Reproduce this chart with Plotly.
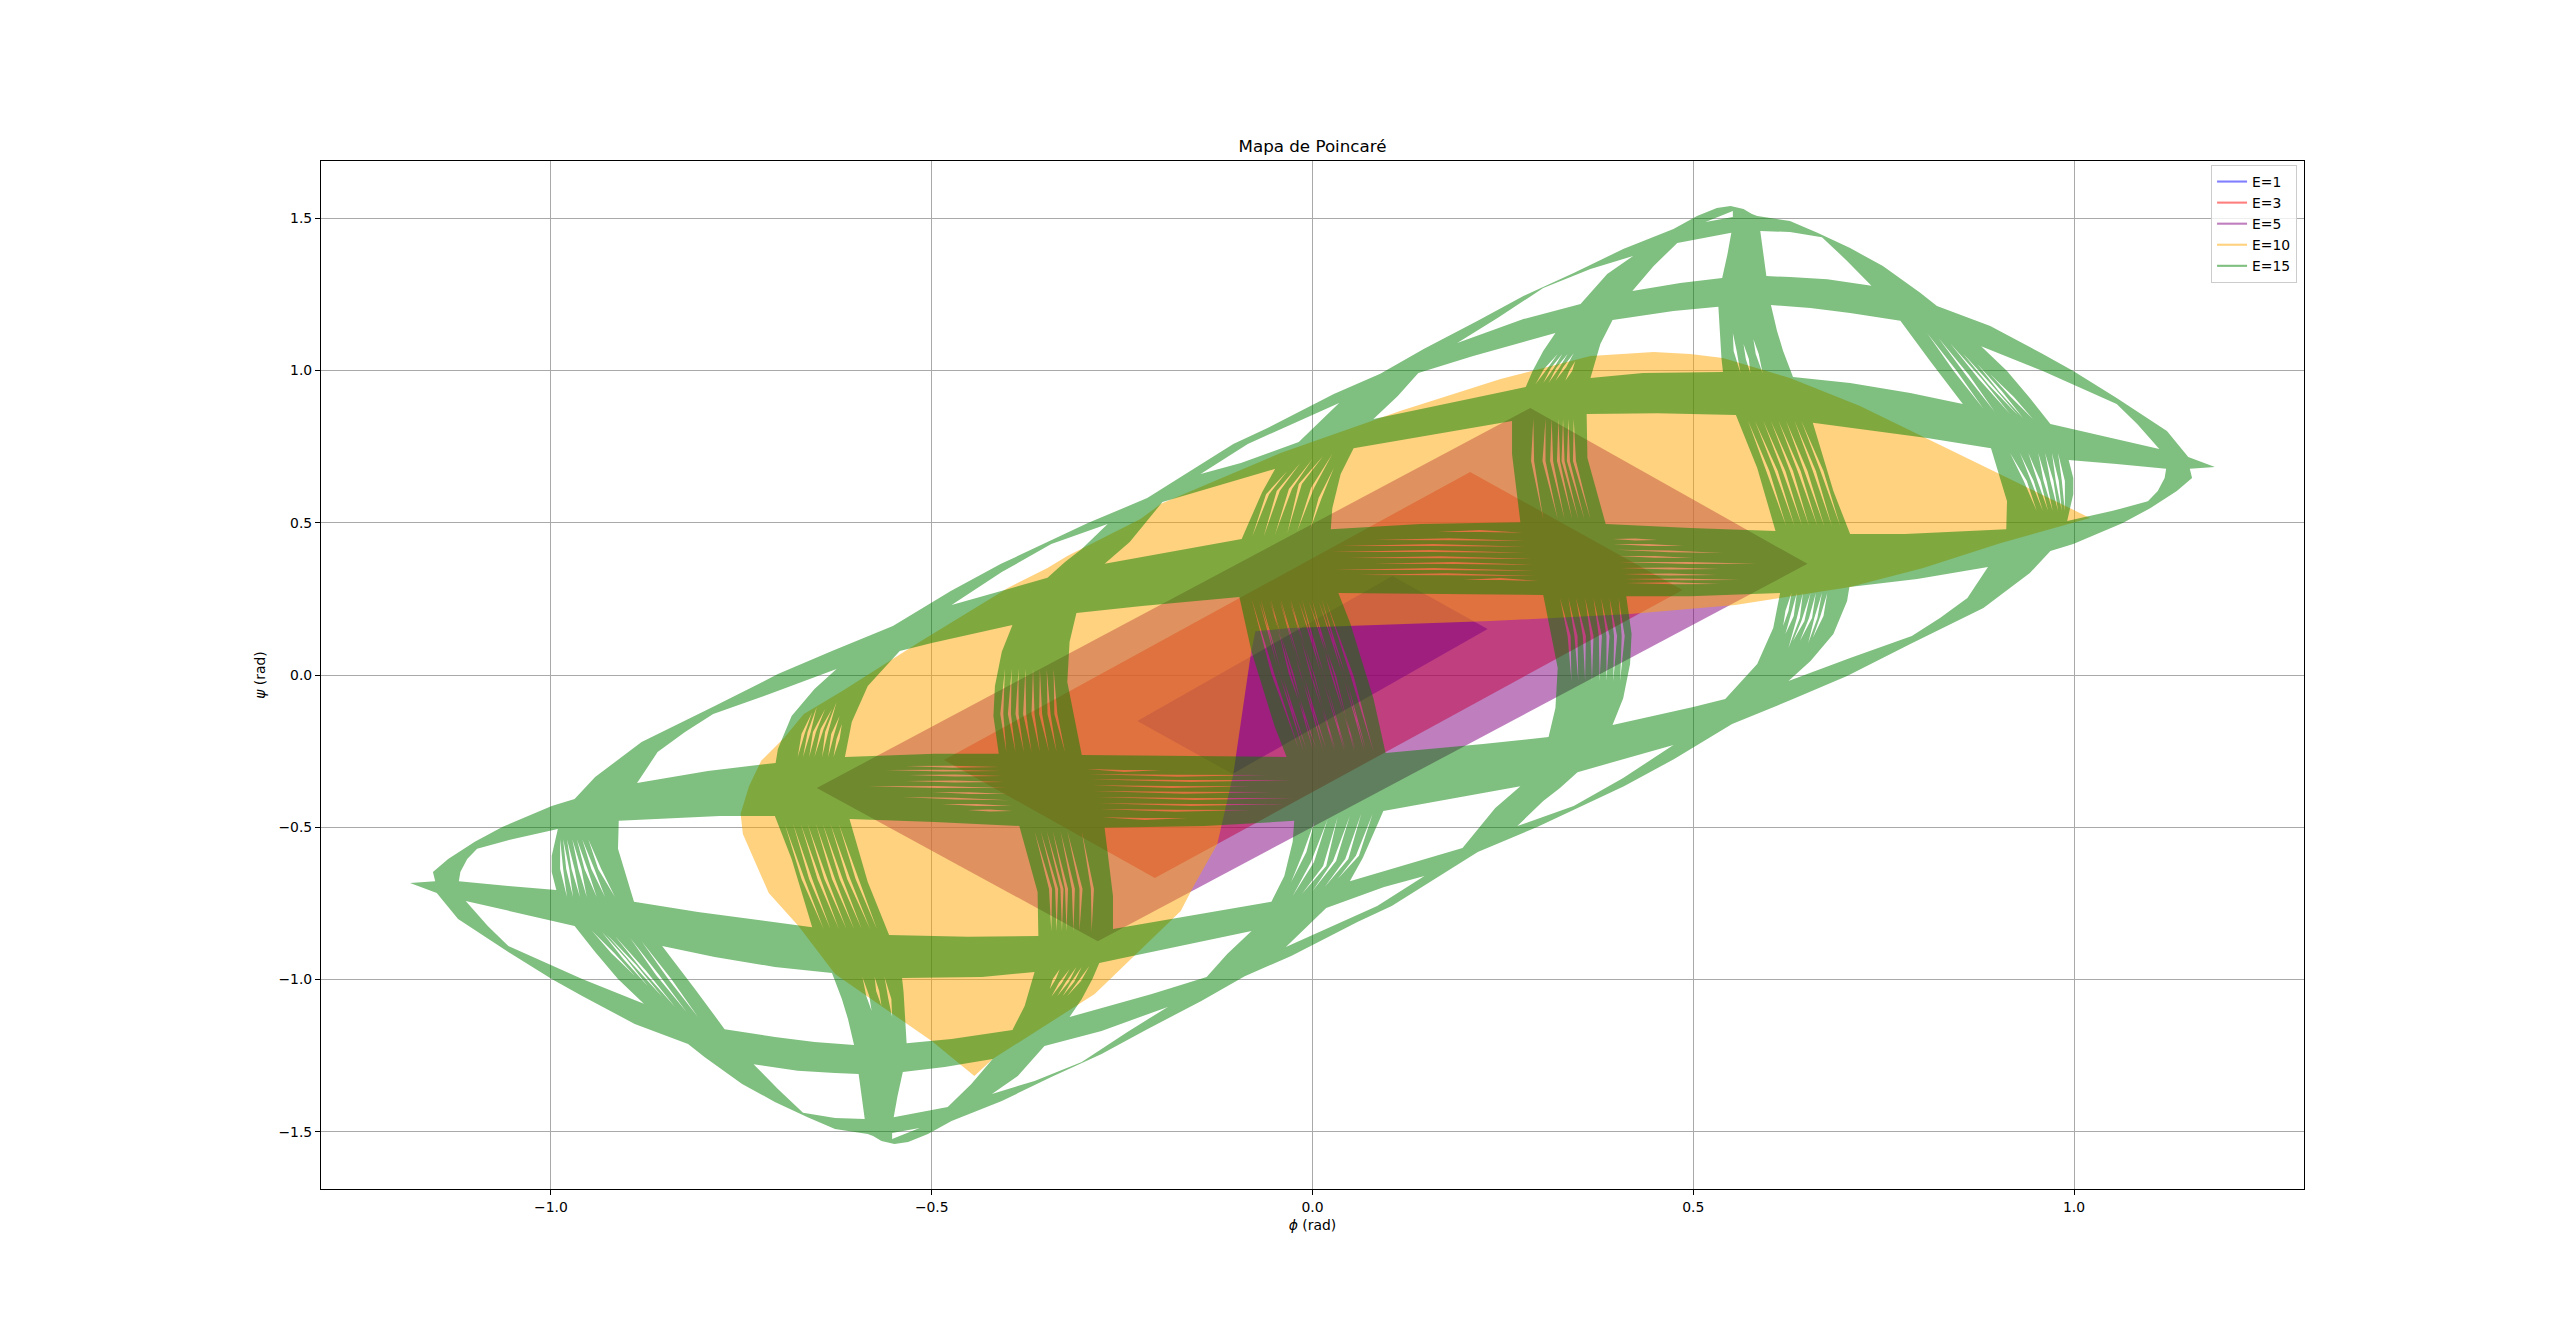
import plotly.graph_objects as go

series_names = ["E=1", "E=3", "E=5", "E=10", "E=15"]
series_colors = ["rgba(0,0,255,0.5)", "rgba(255,0,0,0.5)", "rgba(128,0,128,0.5)",
                 "rgba(255,165,0,0.5)", "rgba(0,128,0,0.5)"]

e1_phi = [-0.230, 0.105, 0.230, -0.105]
e1_psi = [-0.151, 0.325, 0.151, -0.325]
e3_phi = [-0.484, 0.207, 0.486, -0.207]
e3_psi = [-0.279, 0.667, 0.279, -0.667]
e5_phi = [-0.651, 0.286, 0.650, -0.282]
e5_psi = [-0.371, 0.877, 0.365, -0.874]

e10_phi = [-0.444, -0.500, -0.627, -0.675, -0.714, -0.748, -0.751, -0.740, -0.724, -0.694, -0.668, -0.618,
           -0.514, -0.400, -0.348, -0.322, -0.226, -0.199, -0.042, 0.115, 0.247, 0.286, 0.365, 0.448, 0.496,
           0.539, 0.627, 0.719, 0.807, 0.903, 1.021, 0.903, 0.802, 0.706, 0.614, 0.555, 0.417, 0.234, -0.029,
           -0.075, -0.081, -0.104, -0.125, -0.156, -0.173, -0.286, -0.420]
e10_psi = [-1.317, -1.202, -0.982, -0.824, -0.716, -0.522, -0.456, -0.365, -0.282, -0.207, -0.128, -0.053,
           0.112, 0.286, 0.351, 0.391, 0.512, 0.562, 0.729, 0.867, 0.972, 0.998, 1.048, 1.061, 1.054,
           1.041, 0.975, 0.883, 0.775, 0.660, 0.516, 0.433, 0.351, 0.289, 0.253, 0.230, 0.200, 0.177, 0.154,
           0.144, 0.069, -0.325, -0.555, -0.693, -0.775, -1.048, -1.261]

e15_upper_phi = [1.185, 1.150, 1.122, 1.056, 0.999, 0.959, 0.890, 0.820, 0.798, 0.749, 0.706, 0.663, 0.627,
                 0.584, 0.577, 0.566, 0.549, 0.531, 0.505, 0.474, 0.408, 0.343, 0.277, 0.217, 0.146, 0.089,
                 0.028, -0.059, -0.104, -0.164, -0.217, -0.295, -0.353, -0.409, -0.475, -0.551, -0.631,
                 -0.702, -0.785, -0.881, -0.942, -0.969, -0.999, -1.064, -1.100, -1.135, -1.155, -1.152]
e15_upper_psi = [0.683, 0.716, 0.801, 0.910, 0.998, 1.054, 1.146, 1.212, 1.255, 1.343, 1.402, 1.452, 1.491,
                 1.507, 1.514, 1.530, 1.540, 1.534, 1.507, 1.465, 1.399, 1.320, 1.245, 1.163, 1.071, 0.989,
                 0.923, 0.811, 0.759, 0.663, 0.581, 0.499, 0.430, 0.365, 0.276, 0.161, 0.079,
                 0.003, -0.102, -0.220, -0.335, -0.407, -0.430, -0.499, -0.548, -0.604, -0.647, -0.677]
e15_lower_phi = [-1.185, -1.150, -1.122, -1.056, -0.999, -0.959, -0.890, -0.820, -0.798, -0.749, -0.706, -0.663,
                 -0.627, -0.584, -0.577, -0.566, -0.549, -0.531, -0.505, -0.474, -0.408, -0.343, -0.277, -0.217,
                 -0.146, -0.089, -0.028, 0.059, 0.104, 0.164, 0.217, 0.295, 0.353, 0.409, 0.475, 0.551, 0.631,
                 0.702, 0.785, 0.881, 0.942, 0.969, 0.999, 1.064, 1.100, 1.135, 1.155, 1.152]
e15_lower_psi = [-0.683, -0.716, -0.801, -0.910, -0.998, -1.054, -1.146, -1.212, -1.255, -1.343, -1.402, -1.452,
                 -1.491, -1.507, -1.514, -1.530, -1.540, -1.534, -1.507, -1.465, -1.399, -1.320, -1.245, -1.163,
                 -1.071, -0.989, -0.923, -0.811, -0.759, -0.663, -0.581, -0.499, -0.430, -0.365, -0.276, -0.161,
                 -0.079, -0.003, 0.102, 0.220, 0.335, 0.407, 0.430, 0.499, 0.548, 0.604, 0.647, 0.677]

# Openings of the E=15 web, where the trajectory never passes
gaps_phi = [
    [0.190, 0.243, 0.303, 0.365, 0.421, 0.387, 0.352, 0.277],
    [0.080, 0.112, 0.139, 0.211, 0.319, 0.303, 0.289, 0.280, 0.249, 0.181],
    [0.394, 0.378, 0.365, 0.434, 0.539, 0.537, 0.533, 0.474],
    [0.420, 0.448, 0.479, 0.518, 0.550, 0.545, 0.538, 0.483],
    [0.588, 0.627, 0.669, 0.702, 0.734, 0.676, 0.627, 0.596],
    [0.602, 0.654, 0.706, 0.772, 0.811, 0.854, 0.785, 0.706, 0.631, 0.618, 0.610],
    [0.878, 0.959, 1.056, 1.083, 1.112, 1.056, 0.969, 0.942, 0.912],
    [0.993, 1.056, 1.121, 1.119, 1.110, 1.097, 1.051, 0.991, 0.999, 0.999],
    [0.657, 0.807, 0.891, 0.912, 0.911, 0.778, 0.706, 0.684],
    [0.705, 0.794, 0.887, 0.860, 0.824, 0.787, 0.706, 0.625, 0.654, 0.684, 0.702],
    [0.412, 0.496, 0.614, 0.605, 0.584, 0.542, 0.500, 0.394, 0.408, 0.417, 0.419],
    [0.348, 0.408, 0.474, 0.408, 0.343, 0.269, 0.303, 0.325],
    [0.034, 0.303, 0.322, 0.319, 0.310, 0.224, 0.096, 0.080, 0.050],
    [0.093, 0.181, 0.273, 0.240, 0.197, 0.049, 0.066, 0.089],
    [-0.147, -0.085, 0.035, -0.018, -0.094],
    [0.054, 0.155, 0.262, 0.262, 0.273, 0.142, 0.024, 0.026, 0.037],
    [0.360, 0.453, 0.556, 0.584, 0.608, 0.496, 0.385, 0.361],
    [0.516, 0.552, 0.552],
    [-0.190, -0.243, -0.303, -0.365, -0.421, -0.387, -0.352, -0.277],
    [-0.080, -0.112, -0.139, -0.211, -0.319, -0.303, -0.289, -0.280, -0.249, -0.181],
    [-0.394, -0.378, -0.365, -0.434, -0.539, -0.537, -0.533, -0.474],
    [-0.420, -0.448, -0.479, -0.518, -0.550, -0.545, -0.538, -0.483],
    [-0.588, -0.627, -0.669, -0.702, -0.734, -0.676, -0.627, -0.596],
    [-0.602, -0.654, -0.706, -0.772, -0.811, -0.854, -0.785, -0.706, -0.631, -0.618, -0.610],
    [-0.878, -0.959, -1.056, -1.083, -1.112, -1.056, -0.969, -0.942, -0.912],
    [-0.993, -1.056, -1.121, -1.119, -1.110, -1.097, -1.051, -0.991, -0.999, -0.999],
    [-0.657, -0.807, -0.891, -0.912, -0.911, -0.778, -0.706, -0.684],
    [-0.705, -0.794, -0.887, -0.860, -0.824, -0.787, -0.706, -0.625, -0.654, -0.684, -0.702],
    [-0.412, -0.496, -0.614, -0.605, -0.584, -0.542, -0.500, -0.394, -0.408, -0.417, -0.419],
    [-0.348, -0.408, -0.474, -0.408, -0.343, -0.269, -0.303, -0.325],
    [-0.034, -0.303, -0.322, -0.319, -0.310, -0.224, -0.096, -0.080, -0.050],
    [-0.093, -0.181, -0.273, -0.240, -0.197, -0.049, -0.066, -0.089],
    [0.147, 0.085, -0.035, 0.018, 0.094],
    [-0.054, -0.155, -0.262, -0.262, -0.273, -0.142, -0.024, -0.026, -0.037],
    [-0.360, -0.453, -0.556, -0.584, -0.608, -0.496, -0.385, -0.361],
    [-0.516, -0.552, -0.552],
]
gaps_psi = [
    [1.090, 1.172, 1.271, 1.333, 1.376, 1.317, 1.218, 1.169],
    [0.841, 0.916, 0.992, 1.048, 1.123, 1.064, 0.998, 0.946, 0.929, 0.893],
    [1.166, 1.087, 0.975, 0.992, 0.995, 1.041, 1.209, 1.195],
    [1.261, 1.343, 1.419, 1.438, 1.452, 1.383, 1.304, 1.287],
    [1.458, 1.455, 1.438, 1.360, 1.278, 1.300, 1.307, 1.310],
    [1.215, 1.205, 1.189, 1.163, 1.031, 0.890, 0.926, 0.959, 0.979, 1.064, 1.130],
    [1.080, 0.998, 0.890, 0.824, 0.742, 0.775, 0.824, 0.910, 0.998],
    [0.706, 0.693, 0.677, 0.647, 0.604, 0.571, 0.539, 0.506, 0.594, 0.647],
    [0.828, 0.778, 0.745, 0.571, 0.479, 0.463, 0.463, 0.604],
    [0.289, 0.315, 0.355, 0.253, 0.187, 0.128, 0.056, -0.020, 0.046, 0.135, 0.243],
    [0.259, 0.259, 0.269, 0.154, 0.036, -0.079, -0.105, -0.164, -0.076, 0.036, 0.135],
    [-0.319, -0.276, -0.230, -0.338, -0.430, -0.496, -0.414, -0.371],
    [0.269, 0.263, 0.023, -0.108, -0.204, -0.227, -0.256, -0.076, 0.167],
    [-0.447, -0.407, -0.365, -0.437, -0.568, -0.677, -0.601, -0.470],
    [0.660, 0.759, 0.893, 0.765, 0.696],
    [0.745, 0.788, 0.834, 0.726, 0.502, 0.496, 0.479, 0.548, 0.660],
    [0.857, 0.860, 0.854, 0.680, 0.473, 0.483, 0.496, 0.713],
    [1.488, 1.524, 1.504],
    [-1.090, -1.172, -1.271, -1.333, -1.376, -1.317, -1.218, -1.169],
    [-0.841, -0.916, -0.992, -1.048, -1.123, -1.064, -0.998, -0.946, -0.929, -0.893],
    [-1.166, -1.087, -0.975, -0.992, -0.995, -1.041, -1.209, -1.195],
    [-1.261, -1.343, -1.419, -1.438, -1.452, -1.383, -1.304, -1.287],
    [-1.458, -1.455, -1.438, -1.360, -1.278, -1.300, -1.307, -1.310],
    [-1.215, -1.205, -1.189, -1.163, -1.031, -0.890, -0.926, -0.959, -0.979, -1.064, -1.130],
    [-1.080, -0.998, -0.890, -0.824, -0.742, -0.775, -0.824, -0.910, -0.998],
    [-0.706, -0.693, -0.677, -0.647, -0.604, -0.571, -0.539, -0.506, -0.594, -0.647],
    [-0.828, -0.778, -0.745, -0.571, -0.479, -0.463, -0.463, -0.604],
    [-0.289, -0.315, -0.355, -0.253, -0.187, -0.128, -0.056, 0.020, -0.046, -0.135, -0.243],
    [-0.259, -0.259, -0.269, -0.154, -0.036, 0.079, 0.105, 0.164, 0.076, -0.036, -0.135],
    [0.319, 0.276, 0.230, 0.338, 0.430, 0.496, 0.414, 0.371],
    [-0.269, -0.263, -0.023, 0.108, 0.204, 0.227, 0.256, 0.076, -0.167],
    [0.447, 0.407, 0.365, 0.437, 0.568, 0.677, 0.601, 0.470],
    [-0.660, -0.759, -0.893, -0.765, -0.696],
    [-0.745, -0.788, -0.834, -0.726, -0.502, -0.496, -0.479, -0.548, -0.660],
    [-0.857, -0.860, -0.854, -0.680, -0.473, -0.483, -0.496, -0.713],
    [-1.488, -1.524, -1.504],
]

# Hair-thin slits between neighbouring turns of E=15: start, middle, end of each
slit_col_phi = [
    [.572, .598, .622], [.581, .609, .633], [.592, .619, .643], [.602, .629, .652],
    [.612, .639, .663], [.622, .648, .672], [.633, .659, .682], [.642, .669, .693],
    [.290, .289, .303], [.306, .304, .322], [.314, .314, .331], [.323, .323, .341],
    [.329, .329, .349], [.336, .336, .357], [.343, .344, .365],
    [.807, .844, .881], [.822, .860, .896], [.837, .877, .916], [.854, .890, .927],
    [.873, .903, .933], [.890, .919, .946],
    [.916, .936, .951], [.929, .945, .959], [.940, .954, .966], [.953, .962, .972],
    [.962, .971, .979], [.971, .978, .984], [.979, .986, .988],
    [.629, .623, .618], [.636, .630, .621], [.644, .638, .625], [.654, .644, .631],
    [.661, .654, .640], [.669, .661, .651], [.676, .669, .657],
    [-.070, -.041, -.012], [-.056, -.026, .001], [-.043, -.013, .014], [-.030, .001, .029],
    [-.018, .014, .042], [-.005, .029, .055], [.008, .042, .068], [.018, .052, .080],
    [.325, .337, .340], [.336, .346, .349], [.346, .357, .358], [.358, .367, .367],
    [.369, .378, .377], [.379, .388, .386], [.390, .398, .395], [.402, .408, .404],
    [-.079, -.059, -.033], [-.064, -.045, -.016], [-.049, -.029, .000], [-.033, -.016, .014],
    [-.020, .000, .026], [-.003, .010, .028],
    [.293, .306, .322], [.303, .315, .328], [.310, .322, .335], [.319, .331, .343], [.332, .339, .345],
    [.552, .555, .562], [.566, .571, .575], [.579, .584, .591],
    [-.572, -.598, -.622], [-.581, -.609, -.633], [-.592, -.619, -.643], [-.602, -.629, -.652],
    [-.612, -.639, -.663], [-.622, -.648, -.672], [-.633, -.659, -.682], [-.642, -.669, -.693],
    [-.290, -.289, -.303], [-.306, -.304, -.322], [-.314, -.314, -.331], [-.323, -.323, -.341],
    [-.329, -.329, -.349], [-.336, -.336, -.357], [-.343, -.344, -.365],
    [-.807, -.844, -.881], [-.822, -.860, -.896], [-.837, -.877, -.916], [-.854, -.890, -.927],
    [-.873, -.903, -.933], [-.890, -.919, -.946],
    [-.916, -.936, -.951], [-.929, -.945, -.959], [-.940, -.954, -.966], [-.953, -.962, -.972],
    [-.962, -.971, -.979], [-.971, -.978, -.984], [-.979, -.986, -.988],
    [-.629, -.623, -.618], [-.636, -.630, -.621], [-.644, -.638, -.625], [-.654, -.644, -.631],
    [-.661, -.654, -.640], [-.669, -.661, -.651], [-.676, -.669, -.657],
    [.070, .041, .012], [.056, .026, -.001], [.043, .013, -.014], [.030, -.001, -.029],
    [.018, -.014, -.042], [.005, -.029, -.055], [-.008, -.042, -.068], [-.018, -.052, -.080],
    [-.325, -.337, -.340], [-.336, -.346, -.349], [-.346, -.357, -.358], [-.358, -.367, -.367],
    [-.369, -.378, -.377], [-.379, -.388, -.386], [-.390, -.398, -.395], [-.402, -.408, -.404],
    [.079, .059, .033], [.064, .045, .016], [.049, .029, .000], [.033, .016, -.014],
    [.020, .000, -.026], [.003, -.010, -.028],
    [-.293, -.306, -.322], [-.303, -.315, -.328], [-.310, -.322, -.335], [-.319, -.331, -.343], [-.332, -.339, -.345],
    [-.552, -.555, -.562], [-.566, -.571, -.575], [-.579, -.584, -.591],
]
slit_col_psi = [
    [.834, .670, .489], [.834, .670, .489], [.834, .670, .489], [.834, .670, .489],
    [.834, .670, .489], [.834, .670, .489], [.834, .670, .489], [.834, .670, .489],
    [.841, .703, .512], [.841, .703, .512], [.841, .703, .512], [.841, .703, .512],
    [.841, .703, .512], [.841, .703, .512], [.841, .703, .512],
    [1.123, .998, .874], [1.107, .985, .864], [1.090, .972, .857], [1.057, .952, .851],
    [1.021, .933, .844], [.988, .913, .841],
    [.729, .637, .539], [.729, .637, .539], [.729, .637, .539], [.729, .637, .539],
    [.729, .637, .539], [.729, .637, .539], [.729, .637, .539],
    [.269, .210, .161], [.269, .194, .135], [.269, .187, .089], [.269, .177, .112],
    [.269, .187, .112], [.269, .187, .105], [.269, .194, .122],
    [.243, -.003, -.250], [.243, -.003, -.250], [.243, -.003, -.250], [.243, -.003, -.250],
    [.243, -.003, -.250], [.243, -.003, -.250], [.243, -.003, -.250], [.243, -.003, -.250],
    [.253, .128, -.020], [.253, .128, -.020], [.253, .128, -.020], [.253, .128, -.020],
    [.253, .128, -.020], [.253, .128, -.020], [.253, .128, -.020], [.253, .128, -.020],
    [.456, .594, .670], [.456, .604, .696], [.463, .611, .709], [.466, .627, .719],
    [.473, .614, .726], [.479, .581, .680],
    [.956, 1.005, 1.054], [.959, 1.008, 1.054], [.959, 1.008, 1.054], [.966, 1.011, 1.057], [.966, .998, 1.031],
    [1.123, 1.064, .992], [1.087, 1.038, .992], [1.103, 1.054, .992],
    [-.834, -.670, -.489], [-.834, -.670, -.489], [-.834, -.670, -.489], [-.834, -.670, -.489],
    [-.834, -.670, -.489], [-.834, -.670, -.489], [-.834, -.670, -.489], [-.834, -.670, -.489],
    [-.841, -.703, -.512], [-.841, -.703, -.512], [-.841, -.703, -.512], [-.841, -.703, -.512],
    [-.841, -.703, -.512], [-.841, -.703, -.512], [-.841, -.703, -.512],
    [-1.123, -.998, -.874], [-1.107, -.985, -.864], [-1.090, -.972, -.857], [-1.057, -.952, -.851],
    [-1.021, -.933, -.844], [-.988, -.913, -.841],
    [-.729, -.637, -.539], [-.729, -.637, -.539], [-.729, -.637, -.539], [-.729, -.637, -.539],
    [-.729, -.637, -.539], [-.729, -.637, -.539], [-.729, -.637, -.539],
    [-.269, -.210, -.161], [-.269, -.194, -.135], [-.269, -.187, -.089], [-.269, -.177, -.112],
    [-.269, -.187, -.112], [-.269, -.187, -.105], [-.269, -.194, -.122],
    [-.243, .003, .250], [-.243, .003, .250], [-.243, .003, .250], [-.243, .003, .250],
    [-.243, .003, .250], [-.243, .003, .250], [-.243, .003, .250], [-.243, .003, .250],
    [-.253, -.128, .020], [-.253, -.128, .020], [-.253, -.128, .020], [-.253, -.128, .020],
    [-.253, -.128, .020], [-.253, -.128, .020], [-.253, -.128, .020], [-.253, -.128, .020],
    [-.456, -.594, -.670], [-.456, -.604, -.696], [-.463, -.611, -.709], [-.466, -.627, -.719],
    [-.473, -.614, -.726], [-.479, -.581, -.680],
    [-.956, -1.005, -1.054], [-.959, -1.008, -1.054], [-.959, -1.008, -1.054], [-.966, -1.011, -1.057], [-.966, -.998, -1.031],
    [-1.123, -1.064, -.992], [-1.087, -1.038, -.992], [-1.103, -1.054, -.992],
]
slit_row_phi = [
    [.164, .220, .277], [.080, .180, .280], [.037, .159, .282], [.024, .154, .283], [.046, .168, .289],
    [.080, .185, .290], [.028, .160, .293], [.059, .177, .295], [.198, .247, .297],
    [.394, .424, .453], [.395, .441, .487], [.398, .469, .539], [.400, .450, .500], [.402, .493, .584],
    [.404, .470, .535], [.407, .469, .531], [.408, .485, .562], [.411, .473, .535],
    [-.164, -.220, -.277], [-.080, -.180, -.280], [-.037, -.159, -.282], [-.024, -.154, -.283], [-.046, -.168, -.289],
    [-.080, -.185, -.290], [-.028, -.160, -.293], [-.059, -.177, -.295], [-.198, -.247, -.297],
    [-.394, -.424, -.453], [-.395, -.441, -.487], [-.398, -.469, -.539], [-.400, -.450, -.500], [-.402, -.493, -.584],
    [-.404, -.470, -.535], [-.407, -.469, -.531], [-.408, -.485, -.562], [-.411, -.473, -.535],
]
slit_row_psi = [
    [.470, .473, .467], [.443, .446, .440], [.424, .427, .421], [.404, .407, .401], [.384, .387, .381],
    [.365, .368, .362], [.345, .348, .342], [.328, .331, .325], [.312, .315, .309],
    [.447, .445, .443], [.430, .427, .424], [.411, .406, .401], [.391, .388, .384], [.371, .368, .365],
    [.351, .350, .348], [.332, .330, .328], [.315, .314, .312], [.302, .301, .299],
    [-.470, -.473, -.467], [-.443, -.446, -.440], [-.424, -.427, -.421], [-.404, -.407, -.401], [-.384, -.387, -.381],
    [-.365, -.368, -.362], [-.345, -.348, -.342], [-.328, -.331, -.325], [-.312, -.315, -.309],
    [-.447, -.445, -.443], [-.430, -.427, -.424], [-.411, -.406, -.401], [-.391, -.388, -.384], [-.371, -.368, -.365],
    [-.351, -.350, -.348], [-.332, -.330, -.328], [-.315, -.314, -.312], [-.302, -.301, -.299],
]

x_ticks = [-1.0, -0.5, 0.0, 0.5, 1.0]
y_ticks = [-1.5, -1.0, -0.5, 0.0, 0.5, 1.0, 1.5]

SLIT_HALF_PHI = 0.0020
SLIT_HALF_PSI = 0.0032


def ring(xs, ys, positive=True):
    """Close a ring and give it the winding that makes it a solid (or an opening)."""
    area = sum(xs[i] * ys[(i + 1) % len(xs)] - xs[(i + 1) % len(xs)] * ys[i] for i in range(len(xs)))
    if (area > 0) != positive:
        xs, ys = xs[::-1], ys[::-1]
    return list(xs) + [xs[0], None], list(ys) + [ys[0], None]


e15_phi, e15_psi = ring(e15_upper_phi + e15_lower_phi, e15_upper_psi + e15_lower_psi)
for gp, gs in zip(gaps_phi, gaps_psi):
    a, b = ring(gp, gs, positive=False)
    e15_phi += a
    e15_psi += b
for sp, ss in zip(slit_col_phi, slit_col_psi):
    a, b = ring([sp[0], sp[1] + SLIT_HALF_PHI, sp[2], sp[1] - SLIT_HALF_PHI],
                [ss[0], ss[1], ss[2], ss[1]], positive=False)
    e15_phi += a
    e15_psi += b
for sp, ss in zip(slit_row_phi, slit_row_psi):
    a, b = ring([sp[0], sp[1], sp[2], sp[1]],
                [ss[0], ss[1] + SLIT_HALF_PSI, ss[2], ss[1] - SLIT_HALF_PSI], positive=False)
    e15_phi += a
    e15_psi += b

regions = [ring(e1_phi, e1_psi), ring(e3_phi, e3_psi), ring(e5_phi, e5_psi),
           ring(e10_phi, e10_psi), (e15_phi, e15_psi)]

fig = go.Figure()
for (px, py), color in zip(regions, series_colors):
    fig.add_trace(go.Scatter(x=px, y=py, mode="lines", fill="toself", fillcolor=color,
                             line=dict(width=0, color=color), showlegend=False, hoverinfo="skip"))
for name, color in zip(series_names, series_colors):
    fig.add_trace(go.Scatter(x=[None], y=[None], mode="lines", name=name,
                             line=dict(width=2.1, color=color)))

axis_common = dict(showgrid=True, gridcolor="#a9a9a9", gridwidth=1.1, zeroline=False,
                   showline=True, linecolor="black", linewidth=1.1, mirror=True,
                   ticks="outside", ticklen=5, tickwidth=1.1, tickcolor="black", tickformat=".1f",
                   tickfont=dict(size=13.9, color="black"), tickmode="array")
fig.update_layout(
    width=2560, height=1335, autosize=False,
    margin=dict(l=321, r=256, t=161, b=146, pad=0),
    paper_bgcolor="white", plot_bgcolor="white",
    font=dict(family="DejaVu Sans", size=13.9, color="black"),
    title=dict(text="Mapa de Poincaré", font=dict(size=16.7), x=0.5, xref="paper", xanchor="center",
               y=1 - 152 / 1335, yref="container", yanchor="bottom"),
    xaxis=dict(range=[-1.302, 1.302], tickvals=x_ticks,
               title=dict(text="<i>ϕ</i> (rad)", font=dict(size=13.9), standoff=6), **axis_common),
    yaxis=dict(range=[-1.688, 1.688], tickvals=y_ticks,
               title=dict(text="<i>ψ</i> (rad)", font=dict(size=13.9), standoff=9), **axis_common),
    legend=dict(x=0.9965, y=0.9961, xanchor="right", yanchor="top", bgcolor="rgba(255,255,255,0.8)",
                bordercolor="#cccccc", borderwidth=1, font=dict(size=13.9), itemwidth=30),
)
fig.write_html("out.html", config={"displayModeBar": False},
               post_script="document.body.style.margin='0';")
